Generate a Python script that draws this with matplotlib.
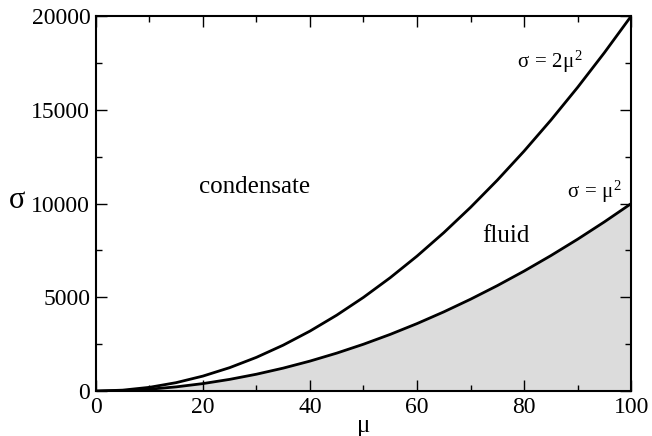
import matplotlib
matplotlib.use("Agg")
import matplotlib.pyplot as plt
from matplotlib.ticker import MultipleLocator

plt.rcParams['font.family'] = ['Liberation Serif', 'DejaVu Serif']
plt.rcParams['mathtext.fontset'] = 'custom'
plt.rcParams['mathtext.rm'] = 'Liberation Serif'
plt.rcParams['mathtext.it'] = 'Liberation Serif'

mu = [0, 5, 10, 15, 20, 25, 30, 35, 40, 45, 50, 55, 60, 65, 70, 75, 80, 85, 90, 95, 100]
sigma_fluid = [0, 25, 100, 225, 400, 625, 900, 1225, 1600, 2025, 2500, 3025, 3600,
               4225, 4900, 5625, 6400, 7225, 8100, 9025, 10000]
sigma_cond = [0, 50, 200, 450, 800, 1250, 1800, 2450, 3200, 4050, 5000, 6050, 7200,
              8450, 9800, 11250, 12800, 14450, 16200, 18050, 20000]
x_ticks = [0, 20, 40, 60, 80, 100]
y_ticks = [0, 5000, 10000, 15000, 20000]

fig = plt.figure(figsize=(6.52, 4.36), dpi=100)
ax = fig.add_axes([0.147, 0.103, 0.821, 0.860])

ax.fill_between(mu, 0, sigma_fluid, color='#dcdcdc', linewidth=0, zorder=1)
ax.plot(mu, sigma_fluid, color='black', lw=2, zorder=3)
ax.plot(mu, sigma_cond, color='black', lw=2, zorder=3)

ax.set_xlim(0, 100)
ax.set_ylim(0, 20000)
ax.set_xticks(x_ticks)
ax.set_yticks(y_ticks)
ax.xaxis.set_minor_locator(MultipleLocator(10))
ax.yaxis.set_minor_locator(MultipleLocator(2500))
ax.tick_params(which='both', direction='in', top=True, right=True, labelsize=17, width=1)
ax.tick_params(axis='x', which='both', pad=4)
ax.tick_params(axis='y', which='both', pad=4)
ax.tick_params(which='major', length=8)
ax.tick_params(which='minor', length=4)
for s in ax.spines.values():
    s.set_linewidth(1.5)

ax.set_xlabel('μ', fontsize=18, va='baseline')
ax.xaxis.set_label_coords(0.5, -0.108)
ax.set_ylabel('σ', fontsize=22, rotation=0, ha='center', va='baseline')
ax.yaxis.set_label_coords(-0.148, 0.488)

ax.text(29.7, 10560, 'condensate', fontsize=18, ha='center', va='baseline')
ax.text(76.6, 7950, 'fluid', fontsize=18, ha='center', va='baseline')
ax.text(84.9, 17230, r'$\sigma\,=\,2\mu^{2}$', fontsize=15, ha='center', va='baseline')
ax.text(93.2, 10290, r'$\sigma\,=\,\mu^{2}$', fontsize=15, ha='center', va='baseline')

fig.savefig('out.png', dpi=100)
